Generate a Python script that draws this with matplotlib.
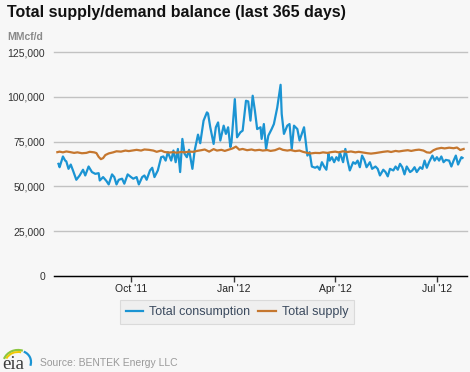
import numpy as np
import pandas as pd
import matplotlib
matplotlib.use("Agg")
import matplotlib.pyplot as plt
from matplotlib.patches import Arc

# first day shown in the chart
start = pd.Timestamp("2011-07-27")

# Total consumption, MMcf/d, at day offsets from start
cons_day = [1, 2, 5, 7, 8, 10, 12, 14, 17, 20, 23, 25, 28, 31, 34, 37, 38, 41, 44, 46,
            49, 51, 53, 55, 58, 60, 63, 66, 68, 71, 73, 76, 78, 80, 83, 85, 87, 90, 93, 95,
            97, 99, 102, 104, 106, 108, 110, 112, 114, 116, 118, 121, 123, 126, 128, 131, 134, 135, 137, 140,
            142, 144, 146, 149, 151, 153, 155, 156, 159, 161, 164, 166, 169, 171, 173, 175, 177, 179, 182, 183,
            185, 187, 189, 192, 194, 197, 200, 201, 203, 206, 208, 210, 212, 215, 217, 219, 221, 224, 226, 228,
            231, 233, 235, 237, 239, 241, 243, 244, 246, 248, 250, 252, 253, 256, 258, 260, 262, 265, 267, 269,
            271, 273, 275, 277, 280, 282, 285, 287, 289, 292, 294, 296, 298, 301, 303, 305, 307, 309, 311, 313,
            316, 318, 320, 322, 325, 327, 329, 331, 333, 336, 338, 340, 342, 344, 346, 348, 351, 353, 355, 357,
            359, 362, 363]
cons_val = [62600, 60700, 66700, 64400, 64000, 59800, 62200, 58900, 53700, 56100,
            59300, 56100, 61100, 58000, 57000, 57400, 53300, 55200, 53000, 51100,
            56700, 55200, 51100, 53700, 54300, 51500, 56700, 55200, 54300, 55200,
            51100, 55200, 56100, 53700, 58900, 60400, 55200, 58900, 66300, 66700,
            64400, 69100, 64400, 70000, 63500, 70900, 58000, 76500, 68200, 66300,
            70400, 59800, 70000, 78900, 74100, 86700, 91300, 90700, 83000, 73700,
            83000, 85700, 75600, 83900, 79300, 83000, 72000, 74600, 98700, 77400,
            80200, 81100, 97800, 97400, 86700, 100600, 92200, 82000, 83000, 76500,
            84800, 70900, 78300, 82000, 84800, 94000, 106700, 90400, 79300, 83900,
            84800, 70900, 83900, 82000, 75600, 79300, 83000, 67200, 69100, 61100,
            60400, 61100, 59300, 63500, 61100, 59300, 68200, 64400, 66300, 63500,
            66300, 64400, 69100, 63500, 70900, 64400, 58900, 63500, 62600, 64400,
            60700, 67200, 64800, 60700, 63500, 59800, 61100, 59800, 56100, 59300,
            58000, 55600, 59800, 58900, 61100, 59300, 62600, 60700, 56700, 61100,
            58000, 58900, 60700, 58000, 60700, 59800, 64400, 60400, 63500, 67200,
            64400, 66300, 64400, 66700, 63500, 64800, 64400, 61100, 64400, 67200,
            62200, 66300, 65900]

# Total supply, MMcf/d
supply_day = [0, 2, 5, 8, 11, 15, 18, 22, 26, 29, 33, 35, 37, 39, 41, 43, 46, 50, 53, 57,
              61, 64, 68, 71, 75, 78, 82, 86, 89, 93, 96, 100, 104, 107, 111, 114, 118, 122, 125, 129,
              132, 136, 140, 143, 147, 150, 154, 157, 160, 163, 166, 170, 174, 177, 181, 184, 188, 191, 195, 199,
              202, 206, 209, 213, 217, 220, 224, 227, 231, 235, 238, 242, 245, 249, 252, 256, 260, 263, 267, 270,
              274, 278, 281, 285, 288, 292, 296, 299, 303, 306, 310, 314, 317, 321, 324, 328, 331, 334, 337, 340,
              344, 347, 351, 355, 358, 361, 364]
supply_val = [69100, 69400, 69000, 69500, 69200, 68700, 69000, 68500, 68700, 69300,
              69000, 68600, 66500, 65200, 65800, 67500, 68400, 69000, 69600, 69400,
              70000, 69700, 70100, 70400, 70000, 70600, 70400, 70000, 69300, 70000,
              69200, 68900, 69100, 68800, 69200, 69000, 69400, 69300, 69800, 70200,
              70600, 69400, 70800, 70000, 70400, 69800, 70600, 71200, 72200, 70500,
              70900, 70200, 70600, 70100, 70400, 70000, 70300, 69800, 70200, 71200,
              70400, 70000, 70300, 69700, 70000, 69300, 68700, 68400, 68700, 68600,
              69000, 68700, 69100, 69400, 69000, 69600, 69200, 69500, 69000, 69300,
              68900, 68500, 68300, 68600, 68900, 69300, 69600, 69200, 69800, 69500,
              69900, 70200, 69800, 70300, 70500, 70000, 69000, 68800, 70200, 71000,
              71500, 71200, 71600, 71300, 71700, 70300, 70900]

tick_dates = ["2011-10-01", "2012-01-01", "2012-04-01", "2012-07-01"]
tick_labels = ["Oct '11", "Jan '12", "Apr '12", "Jul '12"]
y_ticks = [0, 25000, 50000, 75000, 100000, 125000]

BG = "#f7f7f7"
BLUE = "#1b94d3"
ORANGE = "#c5772f"
FONT = "Liberation Sans"

cons_x = start + pd.to_timedelta(cons_day, unit="D")
supply_x = start + pd.to_timedelta(supply_day, unit="D")

fig = plt.figure(figsize=(4.7, 3.72), dpi=100, facecolor=BG)
ax = fig.add_axes([54/470, 1 - 276/372, (467 - 54)/470, (276 - 52)/372])
ax.set_facecolor(BG)

ax.plot(cons_x, cons_val, color=BLUE, lw=1.6, label="Total consumption", zorder=3)
ax.plot(supply_x, supply_val, color=ORANGE, lw=1.6, label="Total supply", zorder=4)

ax.set_ylim(0, 125000)
ax.set_xlim(start - pd.Timedelta(days=3), start + pd.Timedelta(days=367))
ax.set_yticks(y_ticks)
ax.set_yticklabels([f"{v:,}" for v in y_ticks], fontsize=7.5, color="#333333", family=FONT)
ax.set_xticks(pd.to_datetime(tick_dates))
ax.set_xticklabels(tick_labels, fontsize=7.5, color="#222222", family=FONT)
ax.tick_params(axis="y", length=0, pad=6.5)
ax.tick_params(axis="x", length=4, width=1, color="#333333", pad=1.5)
ax.yaxis.grid(True, color="#c2c2c2", lw=1)
ax.set_axisbelow(True)
for s in ["top", "right", "left"]:
    ax.spines[s].set_visible(False)
ax.spines["bottom"].set_color("black")
ax.spines["bottom"].set_linewidth(1)
for gl in ax.get_ygridlines():
    gl.set_clip_on(False)

fig.text(7/470, 1 - 12/372, "Total supply/demand balance (last 365 days)", fontsize=11.5,
         fontweight="bold", family=FONT, color="#111111", va="center", ha="left")
fig.text(7/470, 1 - 37/372, "MMcf/d", fontsize=7.5, fontweight="bold", family=FONT,
         color="#8a8a8a", va="center", ha="left")

leg = ax.legend(loc="center", bbox_to_anchor=(237/470, 1 - 312/372), bbox_transform=fig.transFigure,
                ncol=2, frameon=True, fancybox=False, handlelength=1.4,
                handletextpad=0.5, columnspacing=0.6, borderpad=0.45,
                prop={"family": FONT, "size": 9})
leg.get_frame().set_facecolor("#eeeeee")
leg.get_frame().set_edgecolor("#d4d4d4")
leg.get_frame().set_linewidth(0.8)
for t in leg.get_texts():
    t.set_color("#3b4a5e")

fig.text(40/470, 1 - 363/372, "Source: BENTEK Energy LLC", fontsize=7.5, family=FONT,
         color="#9a9a9a", va="center", ha="left")

# small eia logo
lax = fig.add_axes([0, 0, 40/470, 30/372])
lax.set_xlim(0, 40)
lax.set_ylim(0, 30)
lax.axis("off")
lax.text(2, 3, "eia", fontsize=13.5, family="Liberation Serif", color="#3a3a3a",
         ha="left", va="baseline")
lax.add_patch(Arc((18, 8), 30, 28, theta1=70, theta2=160, color="#8cc63f", lw=1.6))
lax.add_patch(Arc((18, 8), 26, 24, theta1=75, theta2=155, color="#f2c800", lw=1.4))
lax.add_patch(Arc((20, 10), 22, 22, theta1=-20, theta2=70, color="#1b94d3", lw=1.6))

fig.savefig("out.png", dpi=100, facecolor=fig.get_facecolor())
